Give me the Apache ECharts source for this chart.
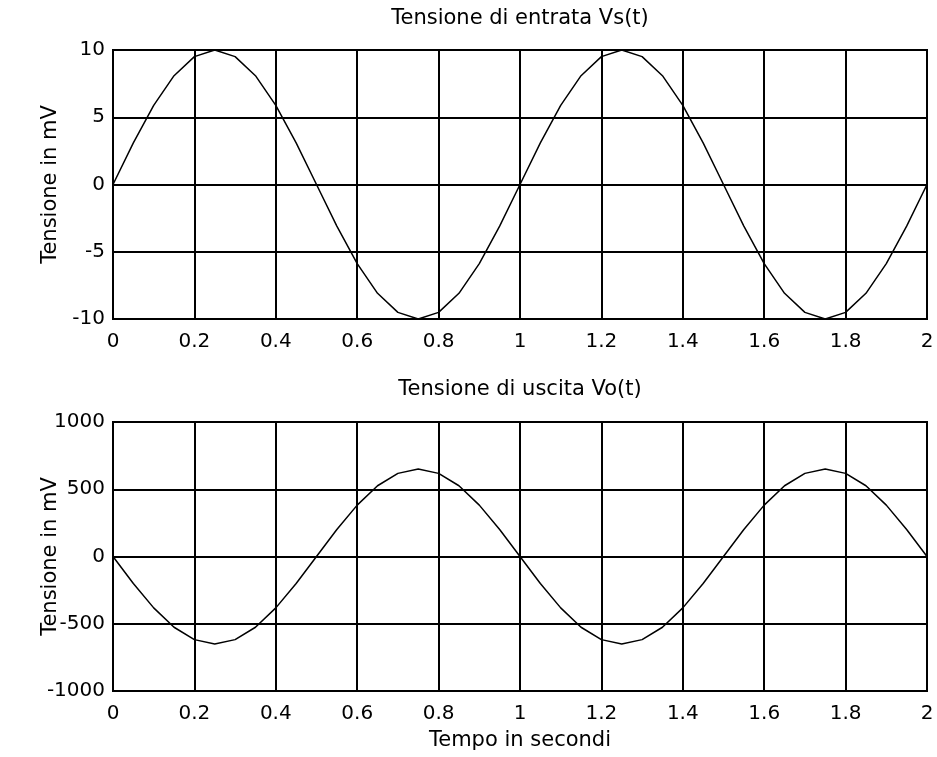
<!DOCTYPE html>
<html>
<head>
<meta charset="utf-8">
<title>Tensione di entrata e di uscita</title>
<script src="https://cdn.jsdelivr.net/npm/echarts@6/dist/echarts.min.js"></script>
<style>
  html, body { margin: 0; padding: 0; background: #fff; }
  #chart { width: 937px; height: 757px; }
</style>
</head>
<body>
<div id="chart"></div>
<script>
// Sample instants, seconds
const tempo = [
  0, 0.05, 0.1, 0.15, 0.2, 0.25, 0.3, 0.35, 0.4, 0.45,
  0.5, 0.55, 0.6, 0.65, 0.7, 0.75, 0.8, 0.85, 0.9, 0.95,
  1, 1.05, 1.1, 1.15, 1.2, 1.25, 1.3, 1.35, 1.4, 1.45,
  1.5, 1.55, 1.6, 1.65, 1.7, 1.75, 1.8, 1.85, 1.9, 1.95, 2
];

// Input voltage Vs(t), mV
const vs = [
  0, 3.09, 5.88, 8.09, 9.51, 10, 9.51, 8.09, 5.88, 3.09,
  0, -3.09, -5.88, -8.09, -9.51, -10, -9.51, -8.09, -5.88, -3.09,
  0, 3.09, 5.88, 8.09, 9.51, 10, 9.51, 8.09, 5.88, 3.09,
  0, -3.09, -5.88, -8.09, -9.51, -10, -9.51, -8.09, -5.88, -3.09, 0
];

// Output voltage Vo(t), mV
const vo = [
  0, -201, -382, -526, -618, -650, -618, -526, -382, -201,
  0, 201, 382, 526, 618, 650, 618, 526, 382, 201,
  0, -201, -382, -526, -618, -650, -618, -526, -382, -201,
  0, 201, 382, 526, 618, 650, 618, 526, 382, 201, 0
];

const titoli = ['Tensione di entrata Vs(t)', 'Tensione di uscita Vo(t)'];
const etichettaY = 'Tensione in mV';
const etichettaX = 'Tempo in secondi';

const FONT = 'DejaVu Sans';
const FS = 20;      // tick labels
const FS_NAME = 21; // titles and axis names

function pairs(xs, ys) {
  return xs.map((x, i) => [x, ys[i]]);
}

// plain numbers, no thousands separator
function plain(v) {
  return String(Math.round(v * 1000) / 1000);
}

function xAxisFor(gridIndex, withName) {
  return {
    type: 'value', gridIndex: gridIndex,
    min: 0, max: 2, interval: 0.2,
    name: withName ? etichettaX : '',
    nameLocation: 'middle', nameGap: 39, nameMoveOverlap: false,
    nameTextStyle: { color: '#000', fontFamily: FONT, fontSize: FS_NAME },
    axisLine: { show: true, onZero: false, lineStyle: { color: '#000', width: 2 } },
    axisTick: { show: false },
    axisLabel: { color: '#000', fontFamily: FONT, fontSize: FS, margin: 13,
                 showMinLabel: true, showMaxLabel: true, formatter: plain },
    splitLine: { show: true, lineStyle: { color: '#000', width: 2 } }
  };
}

function yAxisFor(gridIndex, lo, hi, step) {
  return {
    type: 'value', gridIndex: gridIndex,
    min: lo, max: hi, interval: step,
    name: etichettaY, nameLocation: 'middle', nameGap: 52, nameRotate: 90,
    nameMoveOverlap: false,
    nameTextStyle: { color: '#000', fontFamily: FONT, fontSize: FS_NAME },
    axisLine: { show: true, onZero: false, lineStyle: { color: '#000', width: 2 } },
    axisTick: { show: false },
    axisLabel: { color: '#000', fontFamily: FONT, fontSize: FS, margin: 8,
                 showMinLabel: true, showMaxLabel: true, formatter: plain },
    splitLine: { show: true, lineStyle: { color: '#000', width: 2 } }
  };
}

const chart = echarts.init(document.getElementById('chart'), null, { renderer: 'canvas' });

chart.setOption({
  backgroundColor: '#fff',
  animation: false,
  grid: [
    { left: 113, top: 50, width: 814, height: 269, show: true,
      borderColor: '#000', borderWidth: 2, backgroundColor: 'transparent' },
    { left: 113, top: 422, width: 814, height: 269, show: true,
      borderColor: '#000', borderWidth: 2, backgroundColor: 'transparent' }
  ],
  graphic: [
    { type: 'text', x: 520, y: 19,
      style: { text: titoli[0], fill: '#000', font: FS_NAME + 'px "' + FONT + '"',
               textAlign: 'center', textVerticalAlign: 'middle' } },
    { type: 'text', x: 520, y: 390,
      style: { text: titoli[1], fill: '#000', font: FS_NAME + 'px "' + FONT + '"',
               textAlign: 'center', textVerticalAlign: 'middle' } }
  ],
  xAxis: [xAxisFor(0, false), xAxisFor(1, true)],
  yAxis: [yAxisFor(0, -10, 10, 5), yAxisFor(1, -1000, 1000, 500)],
  series: [
    { type: 'line', xAxisIndex: 0, yAxisIndex: 0, data: pairs(tempo, vs),
      showSymbol: false, symbol: 'none', z: 5,
      lineStyle: { color: '#000', width: 1.5 } },
    { type: 'line', xAxisIndex: 1, yAxisIndex: 1, data: pairs(tempo, vo),
      showSymbol: false, symbol: 'none', z: 5,
      lineStyle: { color: '#000', width: 1.5 } }
  ]
});
</script>
</body>
</html>
